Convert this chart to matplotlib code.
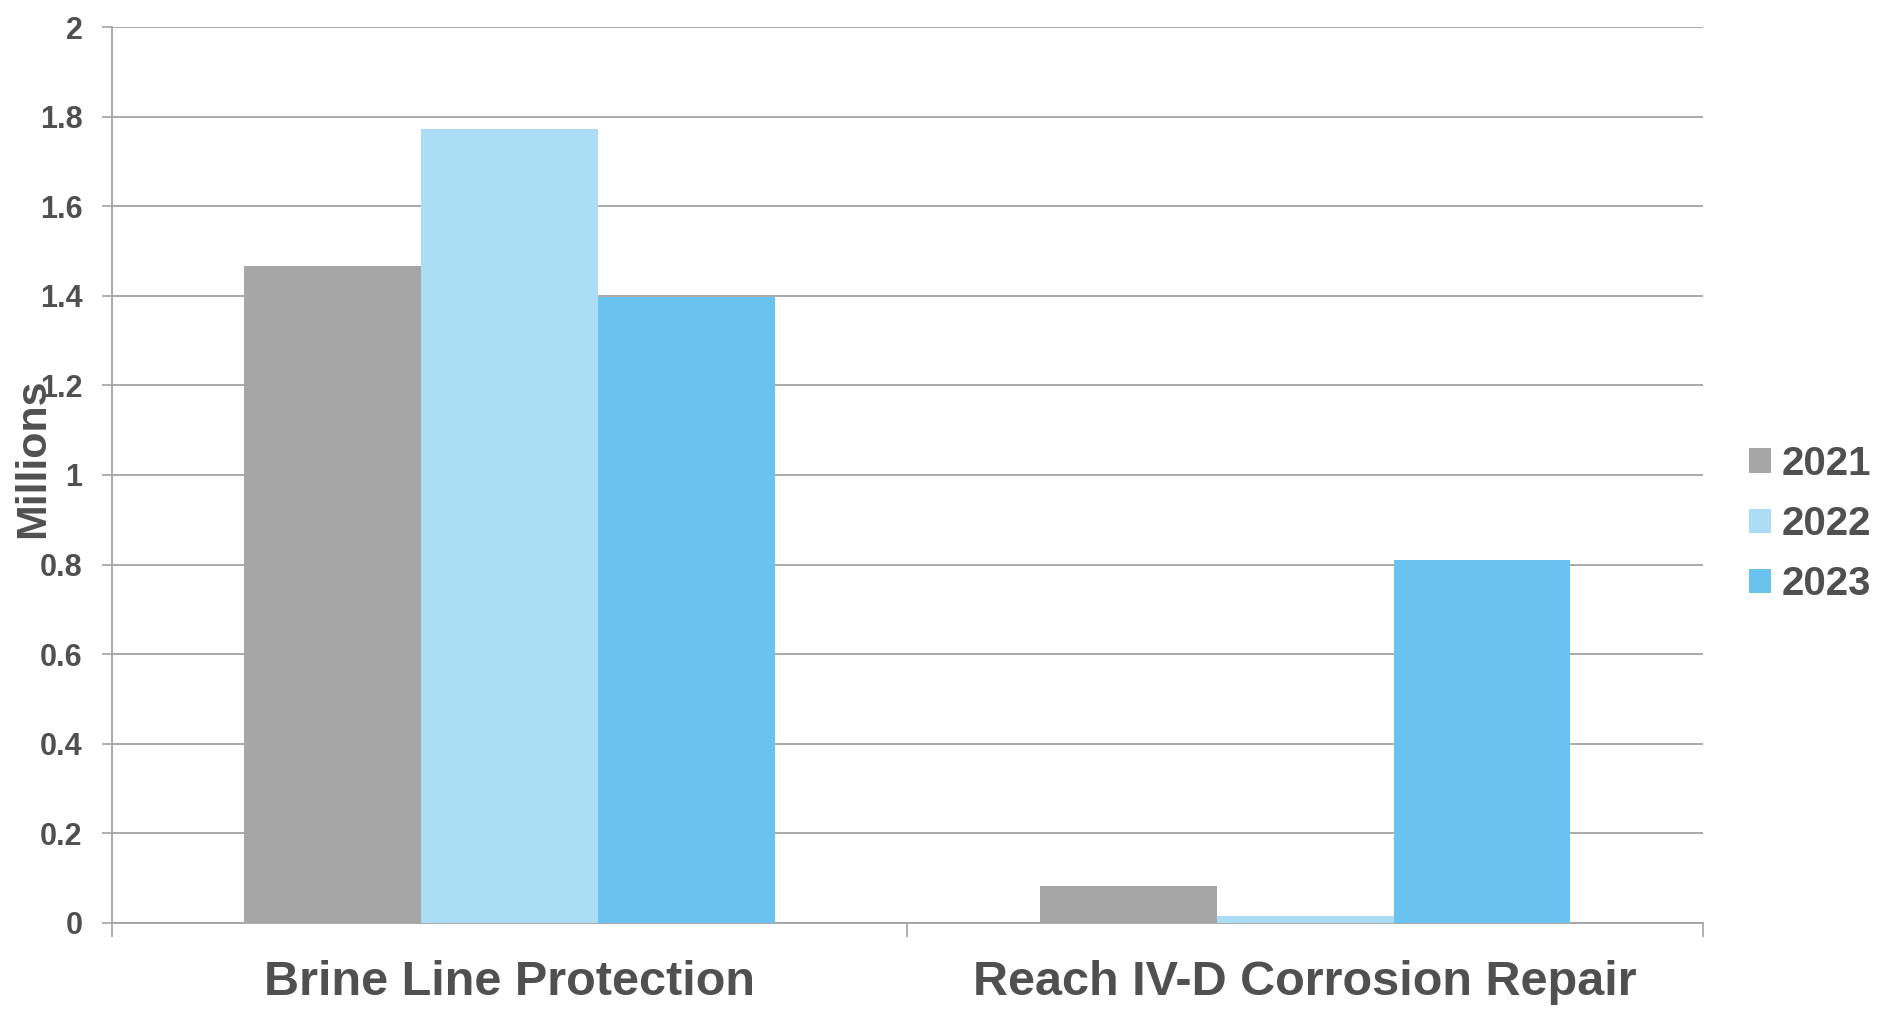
import matplotlib.pyplot as plt
from matplotlib.patches import Patch

# datos (millones)
categorias = ["Brine Line Protection", "Reach IV-D Corrosion Repair"]
anios = ["2021", "2022", "2023"]
valores_2021 = [1.467, 0.082]
valores_2022 = [1.773, 0.015]
valores_2023 = [1.398, 0.810]

colores = ["#A6A6A6", "#ABDEF4", "#69C3EE"]
TXT = "#505050"
GRID = "#A3A3A3"

plt.rcParams["font.family"] = ["Liberation Sans", "DejaVu Sans"]
plt.rcParams["font.weight"] = "bold"

fig = plt.figure(figsize=(18.83, 10.09), dpi=100)
ax = fig.add_axes([0.0593, 0.0855, 0.9044 - 0.0593, 0.973 - 0.0855])

# estilo Excel: ancho de separacion 150%
ancho = 1 / 4.5
inicio = 0.75 / 4.5
series = [valores_2021, valores_2022, valores_2023]
for i, (vals, col) in enumerate(zip(series, colores)):
    xs = [c + inicio + i * ancho for c in range(len(categorias))]
    ax.bar(xs, vals, width=ancho, align="edge", color=col, zorder=3, linewidth=0)

ax.set_xlim(0, len(categorias))
ax.set_ylim(0, 2)
ax.set_yticks([0, 0.2, 0.4, 0.6, 0.8, 1, 1.2, 1.4, 1.6, 1.8, 2])
ax.set_yticklabels(["0", "0.2", "0.4", "0.6", "0.8", "1", "1.2", "1.4", "1.6", "1.8", "2"])
ax.grid(True, axis="y", color=GRID, linewidth=1.3, zorder=1)
ax.set_axisbelow(True)

ax.set_xticks(range(len(categorias) + 1))
ax.set_xticklabels([])
ax.set_xticks([c + 0.5 for c in range(len(categorias))], minor=True)
ax.set_xticklabels(categorias, minor=True, fontsize=35, color=TXT, fontweight="bold")
ax.tick_params(axis="x", which="minor", length=0, pad=27)
ax.tick_params(axis="x", which="major", length=10, width=1.2, color=GRID, direction="out")
ax.tick_params(axis="y", length=7, width=1.2, color=GRID, labelsize=22,
               labelcolor=TXT, pad=14)
for lab in ax.get_yticklabels():
    lab.set_fontweight("bold")

for s in ["top", "right"]:
    ax.spines[s].set_visible(False)
for s in ["left", "bottom"]:
    ax.spines[s].set_color(GRID)
    ax.spines[s].set_linewidth(1.3)

fig.text(33.5 / 1883, 1 - 458 / 1009, "Millions", rotation=90, fontsize=31,
         color=TXT, fontweight="bold", ha="center", va="center")

handles = [Patch(facecolor=c, edgecolor="none") for c in colores]
leg = fig.legend(handles, anios, loc="center left",
                 bbox_to_anchor=(1749 / 1883, 1 - 524 / 1009),
                 frameon=False, fontsize=29, handlelength=0.55, handleheight=0.55,
                 handletextpad=0.25, labelspacing=0.55, borderpad=0, borderaxespad=0)
for t in leg.get_texts():
    t.set_color(TXT)
    t.set_fontweight("bold")

fig.savefig("out.png", dpi=100)
